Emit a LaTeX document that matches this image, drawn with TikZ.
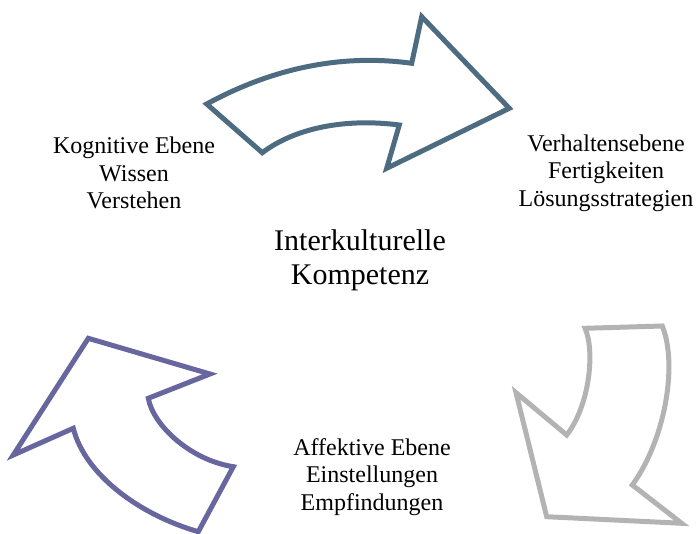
\documentclass[tikz,border=0pt]{standalone}
\usepackage{fontspec}
\setmainfont{Liberation Serif}
\begin{document}
\begin{tikzpicture}[x=1pt,y=-1pt,
  arr/.style={line width=5pt, line join=miter, fill=white},
  lbl/.style={align=center, inner sep=0pt, font=\fontsize{24}{27.5}\selectfont},
  ctr/.style={align=center, inner sep=0pt, font=\fontsize{30}{34}\selectfont}]
\definecolor{cblue}{HTML}{4D6C81}
\definecolor{cpurple}{HTML}{67669E}
\definecolor{cgray}{HTML}{B3B3B3}
\useasboundingbox (0,0) rectangle (697,534);
% top arrow
\draw[arr, draw=cblue] (206.7,104) -- (262.3,152.7)
  .. controls (295,128) and (345,118) .. (399.3,125)
  -- (386.7,168.3) -- (509.3,108.3) -- (421.7,16.7) -- (411.7,63.3)
  .. controls (330,52) and (260,75) .. cycle;
% right arrow
\draw[arr, draw=cgray] (585,328.3) -- (662.3,326)
  .. controls (678,365) and (665,440) .. (632.3,485)
  -- (681.7,523.3) -- (546.7,516.7) -- (516,392.7) -- (566.7,435)
  .. controls (590,405) and (595,350) .. cycle;
% left arrow
\draw[arr, draw=cpurple] (88.3,338.3) -- (210,374) -- (148.3,398.3)
  .. controls (153,425) and (190,460) .. (233.3,466.7)
  -- (198.3,531.7)
  .. controls (140,515) and (85,475) .. (73.3,428.3)
  -- (13.3,455) -- cycle;
\node[lbl] (kog) at (134,173) {Kognitive Ebene\\Wissen\\Verstehen};
\node[lbl] (ver) at (606,173) {Verhaltensebene\\Fertigkeiten\\Lösungsstrategien};
\node[ctr] (ik) at (360,260) {Interkulturelle\\Kompetenz};
\node[lbl] (aff) at (372,477) {Affektive Ebene\\Einstellungen\\Empfindungen};
\end{tikzpicture}
\end{document}
